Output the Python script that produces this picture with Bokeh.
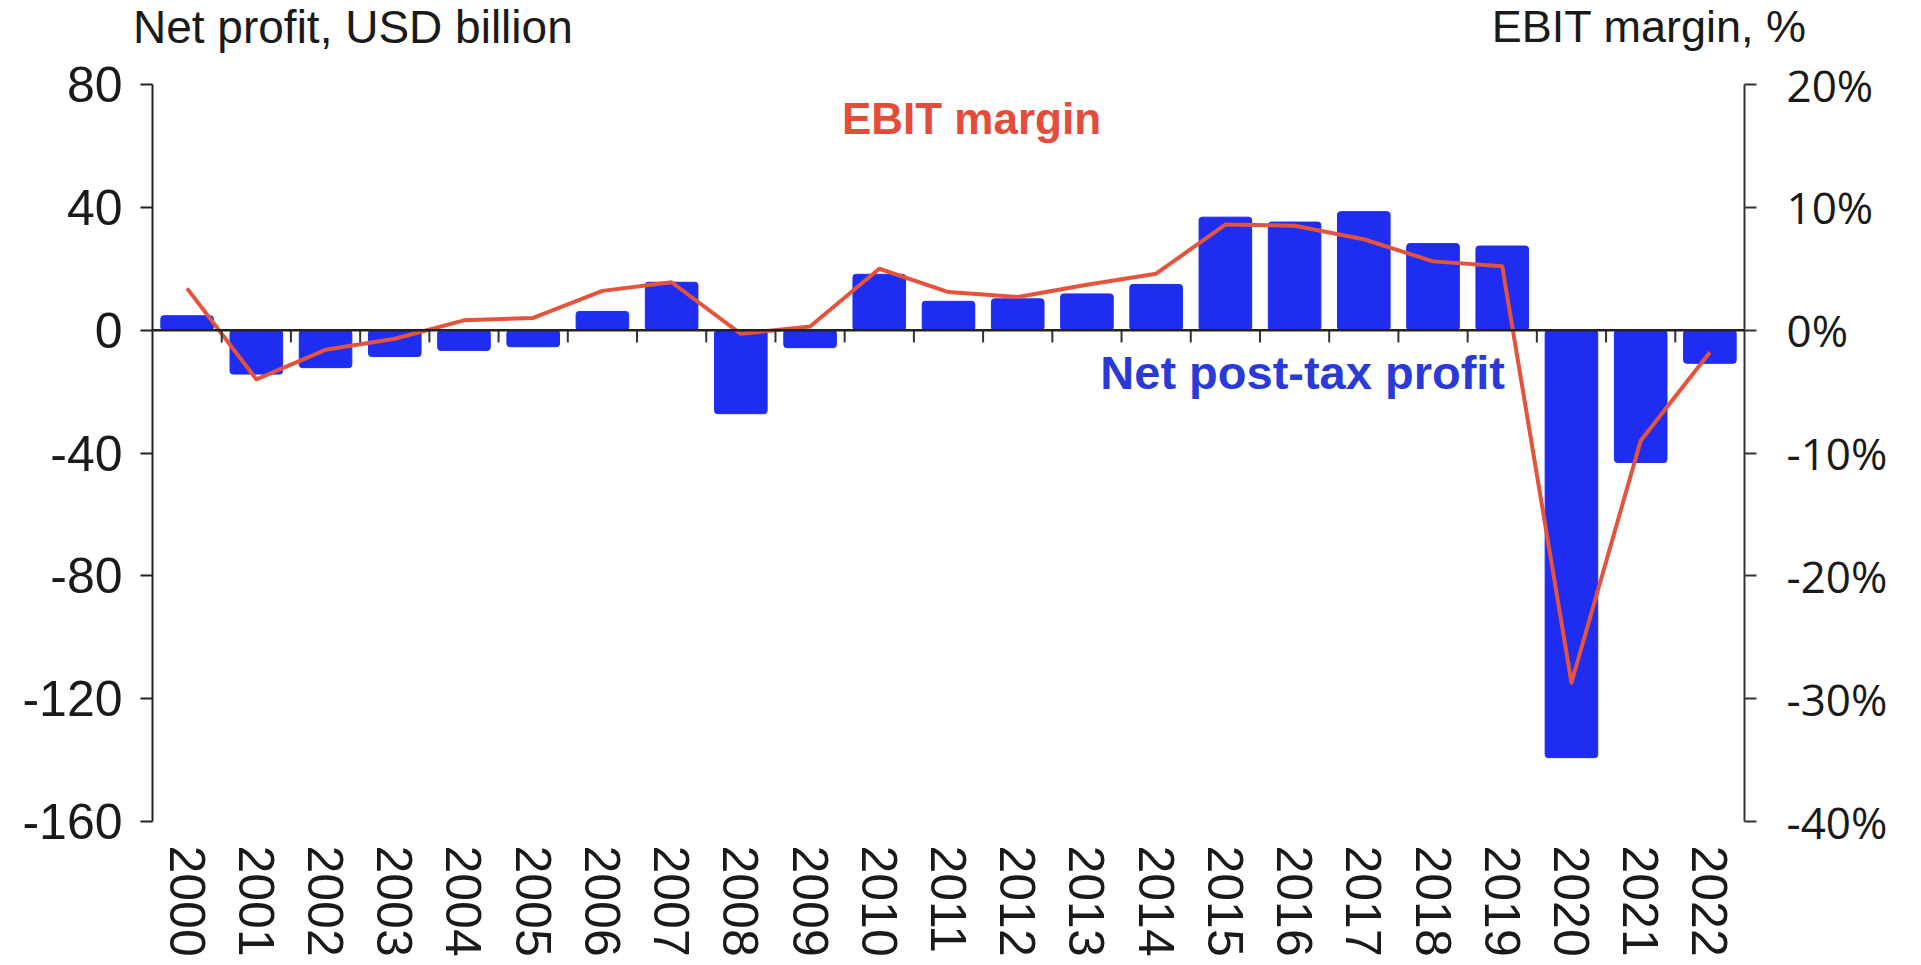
from bokeh.plotting import figure
from bokeh.models import (Range1d, LinearAxis, FactorRange, Span, Label,
                          PrintfTickFormatter, FixedTicker, Div)
from bokeh.layouts import column
from bokeh.embed import file_html
from bokeh.resources import INLINE

years = ["2000", "2001", "2002", "2003", "2004", "2005", "2006", "2007",
         "2008", "2009", "2010", "2011", "2012", "2013", "2014", "2015",
         "2016", "2017", "2018", "2019", "2020", "2021", "2022"]
net_profit = [4.7, -14.3, -12.2, -8.6, -6.6, -5.4, 6.1, 15.6, -27.2, -5.7,
              18.2, 9.4, 10.2, 11.8, 14.9, 36.8, 35.2, 38.6, 28.2, 27.4,
              -139.2, -43.1, -10.8]
ebit_margin = [3.4, -4.0, -1.6, -0.7, 0.8, 1.0, 3.2, 3.9, -0.3, 0.3,
               5.0, 3.1, 2.7, 3.7, 4.6, 8.6, 8.5, 7.4, 5.6, 5.2,
               -28.7, -9.0, -1.8]
left_ticks = [-160, -120, -80, -40, 0, 40, 80]
right_ticks = [-40, -30, -20, -10, 0, 10, 20]
left_title = "Net profit, USD billion"
right_title = "EBIT margin, %"

BLUE = "#1E2DF0"
RED = "#E5533D"
TXT = "#1a1a1a"

W = 1910
DIV_H = 54
FIG_H = 905

p = figure(x_range=FactorRange(*years, range_padding=0, factor_padding=0),
           y_range=Range1d(left_ticks[0], left_ticks[-1]),
           width=W, height=FIG_H, output_backend="svg", toolbar_location=None,
           min_border_left=152, min_border_right=166, min_border_top=30,
           min_border_bottom=129, margin=0)
p.outline_line_color = None
p.xgrid.grid_line_color = None
p.ygrid.grid_line_color = None
p.background_fill_color = "white"

# bars
p.vbar(x=years, top=net_profit, width=0.76, color=BLUE, border_radius=3)

# right axis range
p.extra_y_ranges = {"pct": Range1d(right_ticks[0], right_ticks[-1])}
p.line(x=years, y=ebit_margin, y_range_name="pct", line_color=RED,
       line_width=4, line_join="round")

# zero line with boundary ticks
p.add_layout(Span(location=0, dimension="width", line_color="#222222",
                  line_width=2.5))
bounds = list(range(1, len(years)))
p.segment(x0=bounds, y0=[0] * len(bounds), x1=bounds, y1=[-4] * len(bounds),
          line_color="#333333", line_width=2)

# left axis
ya = p.yaxis[0]
ya.ticker = FixedTicker(ticks=left_ticks)
ya.formatter = PrintfTickFormatter(format="%d")
ya.major_label_text_font = "Liberation Sans"
ya.major_label_text_font_size = "50px"
ya.major_label_text_color = TXT
ya.axis_line_color = "#222222"
ya.axis_line_width = 2
ya.major_tick_line_color = "#222222"
ya.major_tick_line_width = 2
ya.major_tick_in = 0
ya.major_tick_out = 12
ya.minor_tick_line_color = None
ya.major_label_standoff = 18

# right axis
ra = LinearAxis(y_range_name="pct", ticker=FixedTicker(ticks=right_ticks),
                formatter=PrintfTickFormatter(format="%d%%"))
ra.major_label_text_font = "Open Sans"
ra.major_label_text_font_size = "44px"
ra.major_label_text_color = TXT
ra.axis_line_color = "#333333"
ra.axis_line_width = 2
ra.major_tick_line_color = "#333333"
ra.major_tick_line_width = 2
ra.major_tick_in = 0
ra.major_tick_out = 12
ra.minor_tick_line_color = None
ra.major_label_standoff = 30
p.add_layout(ra, "right")

# bottom axis (labels only)
xa = p.xaxis[0]
xa.axis_line_color = None
xa.major_tick_line_color = None
xa.minor_tick_line_color = None
xa.major_label_orientation = "vertical"
xa.major_label_text_font = "Liberation Sans"
xa.major_label_text_font_size = "50px"
xa.major_label_text_color = TXT
xa.major_label_standoff = 18

# series annotations
p.add_layout(Label(x=9.96, y=69, text="EBIT margin",
                   text_font="Liberation Sans", text_font_style="bold",
                   text_font_size="44px", text_color="#E54B3A",
                   text_align="left", text_baseline="middle"))
p.add_layout(Label(x=19.54, y=-13.8, text="Net post-tax profit",
                   text_font="Liberation Sans", text_font_style="bold",
                   text_font_size="47px", text_color="#2A3AD8",
                   text_align="right", text_baseline="middle"))

# axis titles above the plot
header = Div(width=W, height=DIV_H, margin=0,
             styles={"z-index": "2", "overflow": "visible"}, text=(
    '<div style="position:relative;width:%dpx;height:%dpx;color:%s;">'
    '<span style="position:absolute;left:133px;top:4px;line-height:46px;'
    'font-family:\'Liberation Sans\';font-size:46px;white-space:nowrap;">%s</span>'
    '<span style="position:absolute;right:%dpx;top:4px;line-height:46px;'
    'font-family:\'Liberation Sans\';font-size:45px;white-space:nowrap;">%s</span>'
    '</div>') % (W, DIV_H, TXT, left_title, W - 1806, right_title))

layout = column(header, p, spacing=0)
open("out.html", "w").write(file_html(layout, INLINE))
